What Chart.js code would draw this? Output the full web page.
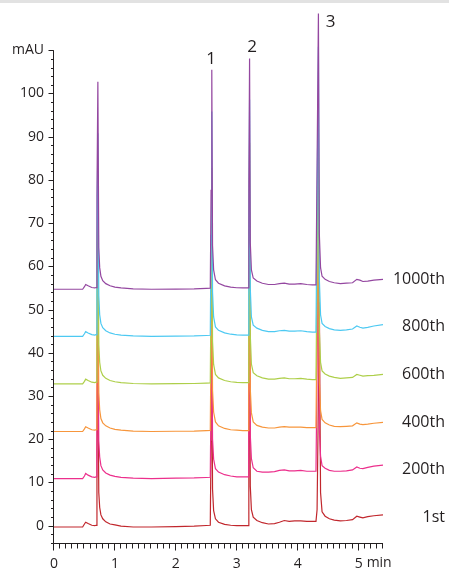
<!DOCTYPE html>
<html>
<head>
<meta charset="utf-8">
<script src="https://cdn.jsdelivr.net/npm/chart.js@4.4.0/dist/chart.umd.min.js"></script>
<style>
  html, body { margin: 0; padding: 0; background: #fff; }
  #wrap { width: 449px; height: 568px; position: relative; }
</style>
</head>
<body>
<div id="wrap"><canvas id="chrom"></canvas></div>
<script>
// retention time grid (min), shared by all runs
const timeMin = [0, 0.47, 0.5, 0.52, 0.56, 0.62, 0.67, 0.69, 0.705, 0.72, 0.735, 0.75, 0.77, 0.8, 0.85, 0.92, 1.0, 1.1, 1.3, 1.6,
  2.0, 2.3, 2.5, 2.565, 2.578, 2.59, 2.602, 2.62, 2.65, 2.7, 2.8, 2.9, 3.0, 3.1, 3.185, 3.198, 3.21, 3.222, 3.24, 3.27,
  3.33, 3.42, 3.52, 3.62, 3.7, 3.78, 3.86, 3.95, 4.05, 4.15, 4.24, 4.3, 4.318, 4.34, 4.355, 4.375, 4.4, 4.45, 4.52, 4.6,
  4.7, 4.8, 4.9, 4.97, 5.02, 5.07, 5.15, 5.25, 5.4];

// signal above each run's own baseline (mAU)
const run1st = [0, 0, 0.7, 1.1, 0.8, 0.4, 0.3, 0.4, 18, 40, 8, 4.5, 2.8, 1.9, 1.2, 0.7, 0.5, 0.2, 0, 0,
  0.1, 0.2, 0.35, 0.4, 19.8, 44, 8.8, 3.8, 1.9, 1.1, 0.6, 0.4, 0.3, 0.3, 0.3, 21.2, 47, 9.4, 4, 2.3,
  1.5, 1.0, 0.7, 0.8, 1.1, 1.5, 1.3, 1.4, 1.4, 1.3, 1.3, 1.3, 4, 30, 52, 8, 3.5, 2.5, 1.9, 1.6,
  1.4, 1.5, 1.7, 2.5, 2.3, 2.1, 2.4, 2.6, 2.8];
const run200th = [0, 0, 0.6, 1.2, 0.8, 0.4, 0.3, 0.4, 19.4, 43, 8.6, 5, 3, 2, 1.3, 0.8, 0.5, 0.3, 0.1, 0,
  0.1, 0.15, 0.25, 0.3, 20.7, 46, 9.2, 4.5, 2.3, 1.5, 0.9, 0.6, 0.4, 0.4, 0.4, 22.5, 50, 10, 4.6, 2.5,
  1.7, 1.5, 1.5, 1.6, 1.9, 2.0, 1.8, 1.8, 1.9, 1.7, 1.7, 1.7, 25.2, 56, 11.2, 5.2, 3, 2.4, 1.9, 1.7,
  1.7, 1.8, 2.0, 2.7, 2.4, 2.3, 2.6, 2.9, 3.1];
const run400th = [0, 0, 0.6, 1.1, 0.8, 0.4, 0.3, 0.4, 20, 44.5, 8.9, 5, 3, 2, 1.3, 0.8, 0.5, 0.3, 0.1, 0,
  0.05, 0.1, 0.2, 0.25, 21.6, 48, 9.6, 4.5, 2.2, 1.3, 0.7, 0.4, 0.3, 0.2, 0.2, 22, 49, 9.8, 4.3, 2.2,
  1.4, 1.0, 0.8, 0.8, 1.0, 1.1, 1.0, 1.0, 1.0, 0.9, 0.9, 0.9, 26.1, 58, 11.6, 4.8, 2.8, 2.0, 1.5, 1.2,
  1.1, 1.2, 1.3, 2.0, 1.7, 1.6, 1.7, 1.9, 2.1];
const run600th = [0, 0, 0.6, 1.1, 0.8, 0.4, 0.3, 0.4, 20.3, 45, 9, 5, 3, 2, 1.3, 0.8, 0.5, 0.3, 0.1, 0,
  0.05, 0.1, 0.2, 0.25, 22.5, 50, 10, 4.5, 2.2, 1.4, 0.8, 0.5, 0.35, 0.3, 0.3, 25.1, 55.8, 11.2, 4.6, 2.6,
  1.9, 1.4, 1.1, 1.1, 1.3, 1.4, 1.2, 1.2, 1.3, 1.1, 1.0, 1.0, 27.9, 62, 12.4, 5, 3, 2.3, 1.8, 1.5,
  1.3, 1.4, 1.5, 2.2, 2.0, 1.8, 1.9, 2.0, 2.2];
const run800th = [0, 0, 0.6, 1.1, 0.8, 0.4, 0.3, 0.4, 21, 47, 9.4, 5, 3, 2, 1.3, 0.8, 0.5, 0.3, 0.1, 0,
  0.05, 0.1, 0.2, 0.25, 23.4, 52, 10.4, 4.5, 2.2, 1.4, 0.8, 0.5, 0.35, 0.3, 0.3, 24.7, 54.8, 11, 4.5, 2.6,
  1.9, 1.4, 1.1, 1.1, 1.3, 1.4, 1.2, 1.2, 1.3, 1.1, 1.0, 1.0, 30, 67, 13.4, 5, 3, 2.3, 1.8, 1.5,
  1.4, 1.5, 1.7, 2.4, 2.1, 1.9, 2.1, 2.4, 2.7];
const run1000th = [0, 0, 0.6, 1.1, 0.8, 0.4, 0.3, 0.4, 21.6, 48, 9.6, 5, 3, 2, 1.3, 0.8, 0.5, 0.3, 0.1, 0,
  0.05, 0.1, 0.2, 0.25, 22.9, 50.8, 10.2, 4.5, 2.2, 1.4, 0.8, 0.5, 0.35, 0.3, 0.3, 24, 53.4, 10.7, 4.5, 2.6,
  1.9, 1.4, 1.1, 1.1, 1.3, 1.4, 1.2, 1.2, 1.3, 1.1, 1.0, 1.0, 28.7, 63.8, 12.8, 5, 3, 2.3, 1.8, 1.5,
  1.3, 1.4, 1.5, 2.3, 2.1, 1.8, 1.9, 2.1, 2.3];

const runNames = ['1st', '200th', '400th', '600th', '800th', '1000th'];
const runSignals = [run1st, run200th, run400th, run600th, run800th, run1000th];
const runBaseline = [-0.3, 10.9, 21.8, 32.8, 43.8, 54.7];   // stacking offsets
const runColors = ['#c1272d', '#ec2f8c', '#f7963c', '#aecf4a', '#4dc9f2', '#9447a0'];

const peakNames = ['1', '2', '3'];
const peakTime = [2.58, 3.25, 4.54];
const peakLabelY = [108, 110.7, 116.5];

const xTicks = [0, 1, 2, 3, 4, 5];
const yTicks = [0, 10, 20, 30, 40, 50, 60, 70, 80, 90, 100, 110];

const ink = '#231f20';
Chart.defaults.font.family = "'Open Sans', sans-serif";
Chart.defaults.color = ink;

// last run first so it is drawn on top
let datasets = [];
for (let i = runNames.length - 1; i >= 0; i--) {
  datasets.push({
    label: runNames[i],
    data: timeMin.map((t, k) => ({ x: t, y: runSignals[i][k] + runBaseline[i] })),
    borderColor: runColors[i],
    borderWidth: 1.2,
    pointRadius: 0,
    tension: 0,
    fill: false
  });
}

const decor = {
  id: 'decor',
  afterDraw(chart) {
    const ctx = chart.ctx;
    const xs = chart.scales.x, ys = chart.scales.y;
    ctx.save();
    // grey strip along the top edge
    ctx.fillStyle = '#e2e2e2';
    ctx.fillRect(0, 0, chart.width, 3);

    ctx.strokeStyle = ink;
    ctx.lineWidth = 1;
    const ax = Math.round(xs.getPixelForValue(0)) - 0.5;
    const ay = Math.round(ys.getPixelForValue(-4)) + 0.5;
    ctx.beginPath();
    ctx.moveTo(ax, ys.getPixelForValue(110));
    ctx.lineTo(ax, ay);
    ctx.lineTo(xs.getPixelForValue(5.4), ay);
    // y ticks every 2 mAU, long ones every 10
    for (let v = -4; v <= 110; v += 2) {
      const py = Math.round(ys.getPixelForValue(v)) + 0.5;
      const len = v % 10 === 0 ? 5 : 2.5;
      ctx.moveTo(ax - len, py);
      ctx.lineTo(ax, py);
    }
    // x ticks every 0.1 min
    for (let k = 0; k <= 54; k++) {
      const px = Math.round(xs.getPixelForValue(k / 10)) - 0.5;
      const len = k % 10 === 0 ? 7 : 5;
      ctx.moveTo(px, ay);
      ctx.lineTo(px, ay + len);
    }
    ctx.stroke();

    ctx.fillStyle = ink;
    ctx.font = "14px 'Open Sans', sans-serif";
    ctx.textAlign = 'left';
    ctx.textBaseline = 'middle';
    ctx.fillText('min', xs.getPixelForValue(5) + 8, ay + 20);

    // run labels on the right
    ctx.font = "16px 'Open Sans', sans-serif";
    ctx.textAlign = 'right';
    for (let i = 0; i < runNames.length; i++) {
      ctx.fillText(runNames[i], chart.width - 4, ys.getPixelForValue(runBaseline[i] + 2.2));
    }
    // peak numbers
    ctx.font = "17px 'Open Sans', sans-serif";
    ctx.textAlign = 'center';
    for (let i = 0; i < peakNames.length; i++) {
      ctx.fillText(peakNames[i], xs.getPixelForValue(peakTime[i]), ys.getPixelForValue(peakLabelY[i]));
    }
    ctx.restore();
  }
};

new Chart(document.getElementById('chrom'), {
  type: 'line',
  data: { datasets: datasets },
  options: {
    responsive: true,
    maintainAspectRatio: false,
    animation: false,
    layout: { padding: { top: 7, right: 66, bottom: 0, left: 0 } },
    plugins: { legend: { display: false }, tooltip: { enabled: false } },
    scales: {
      x: {
        type: 'linear',
        min: 0,
        max: 5.4,
        grid: { display: false, drawTicks: false },
        border: { display: false },
        ticks: { padding: 13, font: { size: 14 }, maxRotation: 0, autoSkip: false },
        afterBuildTicks: (s) => { s.ticks = xTicks.map(v => ({ value: v })); },
        afterFit: (s) => { s.height = 25; s.paddingLeft = 0; s.paddingRight = 0; }
      },
      y: {
        min: -4,
        max: 120,
        grid: { display: false, drawTicks: false },
        border: { display: false },
        ticks: {
          padding: 10,
          font: { size: 14 },
          autoSkip: false,
          callback: (v) => v === 110 ? 'mAU' : v
        },
        afterBuildTicks: (s) => { s.ticks = yTicks.map(v => ({ value: v })); },
        afterFit: (s) => { s.width = 54; s.paddingTop = 0; s.paddingBottom = 0; }
      }
    }
  },
  plugins: [decor]
});
</script>
</body>
</html>
